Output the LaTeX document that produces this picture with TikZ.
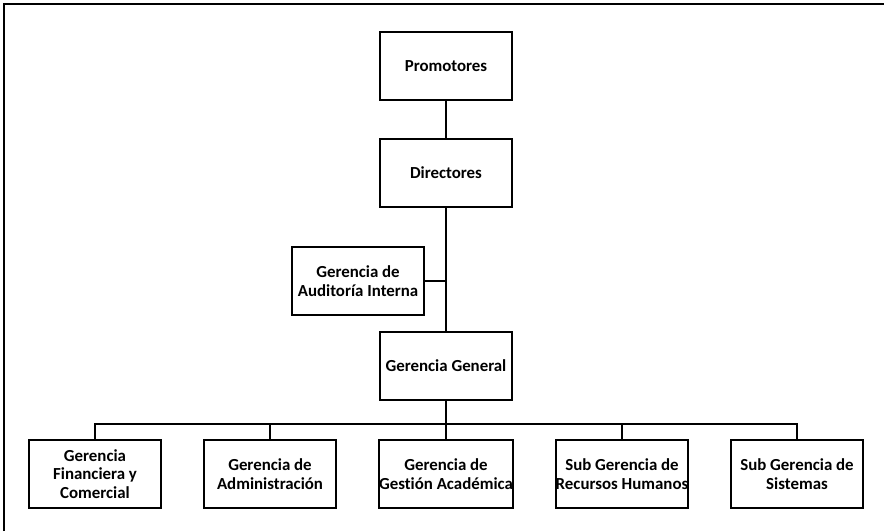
\documentclass[tikz,border=0pt]{standalone}
\usepackage{fontspec}
\setmainfont{Carlito}[Ligatures=NoCommon]
\begin{document}
\begin{tikzpicture}[x=0.02cm,y=-0.02cm,
  caja/.style={draw,line width=1.1pt,minimum width=2.64cm,minimum height=1.36cm,
    inner sep=0pt,align=center,font=\fontsize{9.6}{10.4}\selectfont\bfseries},
  linea/.style={line width=1.1pt}]
\useasboundingbox (0,0) rectangle (884,531);
% marco
\draw[line width=1.4pt] (4,531)--(4,4)--(884,4);
% niveles superiores
\node[caja] (promotores) at (446,66) {Promotores};
\node[caja] (directores) at (446,173) {Directores};
\node[caja] (auditoria) at (358,281) {Gerencia de\\Auditoría Interna};
\node[caja] (general) at (446,366) {Gerencia General};
\draw[linea] (promotores)--(directores);
\draw[linea] (directores)--(general);
\draw[linea] (auditoria.east)--(auditoria.east-|general);
% gerencias
\node[caja] (financiera) at (95,474) {Gerencia\\Financiera y\\Comercial};
\node[caja] (administracion) at (270,474) {Gerencia de\\Administración};
\node[caja] (academica) at (446,474) {Gerencia de\\Gestión Académica};
\node[caja] (rrhh) at (622,474) {Sub Gerencia de\\Recursos Humanos};
\node[caja] (sistemas) at (797,474) {Sub Gerencia de\\Sistemas};
\coordinate (bus) at (446,424);
\draw[linea] (general)--(academica);
\draw[linea] (financiera.north)|-(bus)-|(sistemas.north);
\draw[linea] (administracion.north)--(administracion.north|-bus);
\draw[linea] (rrhh.north)--(rrhh.north|-bus);
\end{tikzpicture}
\end{document}
